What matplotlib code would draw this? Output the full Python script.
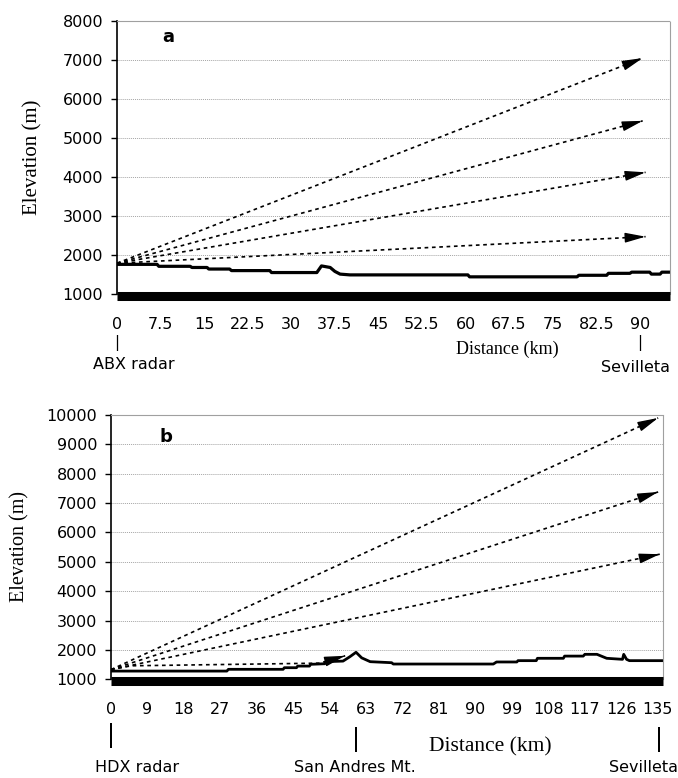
import matplotlib
matplotlib.use("Agg")
import matplotlib.pyplot as plt
import numpy as np

# ---- panel a: ABX radar -> Sevilleta ----
a_dist = [0, 6.9, 7.2, 12.6, 12.9, 15.5, 15.8, 19.4, 19.7, 26.3, 26.6, 34.4, 35.2, 36.7,
          37.5, 38.4, 40.1, 60.4, 60.7, 79.2, 79.5, 84.3, 84.6, 88.3, 88.6, 91.7, 92.0,
          93.5, 93.8, 95.2]
a_elev = [1760, 1760, 1710, 1710, 1680, 1680, 1640, 1640, 1600, 1600, 1550, 1550, 1720, 1680,
          1580, 1510, 1490, 1490, 1440, 1440, 1480, 1480, 1530, 1530, 1560, 1560, 1510,
          1510, 1560, 1560]
a_ray_start = (0, 1790)
a_ray_end_x = [90.5, 90.5, 91.0, 91.0]
a_ray_end_y = [7050, 5440, 4120, 2470]
a_xticks = [0, 7.5, 15, 22.5, 30, 37.5, 45, 52.5, 60, 67.5, 75, 82.5, 90]
a_xticklabels = ["0", "7.5", "15", "22.5", "30", "37.5", "45", "52.5", "60", "67.5",
                 "75", "82.5", "90"]
a_yticks = [1000, 2000, 3000, 4000, 5000, 6000, 7000, 8000]

# ---- panel b: HDX radar -> Sevilleta ----
b_dist = [0, 28.6, 29.0, 42.5, 42.8, 45.8, 46.1, 49.0, 49.3, 52.8, 53.0, 57.3, 59.0, 60.5,
          61.9, 64.0, 69.3, 69.7, 94.4, 95.2, 100.2, 100.5, 105.0, 105.3, 111.7, 112.0,
          116.6, 117.0, 120.0, 122.4, 126.3, 126.6, 127.3, 128.0, 136.3]
b_elev = [1280, 1280, 1340, 1340, 1395, 1395, 1450, 1450, 1510, 1530, 1600, 1620, 1770, 1920,
          1730, 1600, 1565, 1520, 1520, 1590, 1590, 1635, 1635, 1715, 1715, 1790,
          1790, 1850, 1850, 1715, 1680, 1850, 1680, 1635, 1635]
b_ray_start = (0, 1330)
b_ray_end_x = [135.1, 135.1, 135.5]
b_ray_end_y = [9900, 7380, 5260]
# low ray blocked by San Andres Mt.
b_low_ray_x = [0, 5, 51.5, 57.8]
b_low_ray_y = [1330, 1460, 1550, 1800]
b_xticks = [0, 9, 18, 27, 36, 45, 54, 63, 72, 81, 90, 99, 108, 117, 126, 135]
b_xticklabels = [str(v) for v in b_xticks]
b_yticks = [1000, 2000, 3000, 4000, 5000, 6000, 7000, 8000, 9000, 10000]

W, H = 678, 778
fig = plt.figure(figsize=(W / 100, H / 100), dpi=100)


def fx(px):
    return px / W


def fy(py):
    return 1 - py / H


def arrow_head(ax, x0, y0, x1, y1):
    # draw only the filled head at the end of the ray
    t = 0.02
    ax.annotate("", xy=(x1, y1), xytext=(x1 - t * (x1 - x0), y1 - t * (y1 - y0)),
                arrowprops=dict(arrowstyle="-|>,head_length=1.25,head_width=0.3",
                                color="black", lw=1, shrinkA=0, shrinkB=0))


def style_axes(ax, xmax, ymax, xticks, xlabels, yticks, fs):
    ax.set_xlim(0, xmax)
    ax.set_ylim(1000, ymax)
    ax.set_xticks(xticks)
    ax.set_xticklabels(xlabels)
    ax.set_yticks(yticks)
    ax.tick_params(axis="x", length=0, pad=15, labelsize=fs)
    ax.tick_params(axis="y", length=4, width=1, pad=6, labelsize=fs)
    ax.grid(axis="y", color="#a5a5a5", linestyle=(0, (1, 1)), lw=0.7)
    ax.set_axisbelow(True)
    ax.spines["left"].set_linewidth(1.2)
    ax.spines["bottom"].set_linewidth(6.5)
    ax.spines["bottom"].set_capstyle("butt")
    ax.spines["bottom"].set_position(("outward", 1.5))
    for s in ("top", "right"):
        ax.spines[s].set_color("#a0a0a0")
        ax.spines[s].set_linestyle((0, (1, 1)))
        ax.spines[s].set_linewidth(0.8)


plt.rcParams["font.family"] = "DejaVu Sans"
serif = "Liberation Serif"

# panel a
ax_a = fig.add_axes([fx(117), fy(294), (670 - 117) / W, (294 - 21) / H])
style_axes(ax_a, 95.2, 8000, a_xticks, a_xticklabels, a_yticks, 11.5)
ax_a.plot(a_dist, a_elev, color="black", lw=2.3)
for ex, ey in zip(a_ray_end_x, a_ray_end_y):
    ax_a.plot([a_ray_start[0], ex], [a_ray_start[1], ey], color="black",
              lw=1.2, linestyle=(0, (2.2, 2.2)))
    arrow_head(ax_a, a_ray_start[0], a_ray_start[1], ex, ey)
fig.text(fx(168), fy(37), "a", fontsize=13, fontweight="bold", ha="center", va="center")
fig.text(fx(33), fy(157), "Elevation (m)", family=serif, fontsize=15,
         rotation=90, ha="center", va="center")
fig.text(fx(507), fy(349), "Distance (km)", family=serif, fontsize=13,
         ha="center", va="center")
fig.text(fx(117), fy(343), "|", fontsize=11, ha="center", va="center")
fig.text(fx(134), fy(365), "ABX radar", fontsize=11.5, ha="center", va="center")
fig.text(fx(640), fy(343), "|", fontsize=11, ha="center", va="center")
fig.text(fx(636), fy(367), "Sevilleta", fontsize=11.5, ha="center", va="center")

# panel b
ax_b = fig.add_axes([fx(111), fy(679.3), (663 - 111) / W, (679.3 - 415) / H])
style_axes(ax_b, 136.3, 10000, b_xticks, b_xticklabels, b_yticks, 11.5)
ax_b.plot(b_dist, b_elev, color="black", lw=2.0)
for ex, ey in zip(b_ray_end_x, b_ray_end_y):
    ax_b.plot([b_ray_start[0], ex], [b_ray_start[1], ey], color="black",
              lw=1.2, linestyle=(0, (2.2, 2.2)))
    arrow_head(ax_b, b_ray_start[0], b_ray_start[1], ex, ey)
ax_b.plot(b_low_ray_x, b_low_ray_y, color="black", lw=1.2, linestyle=(0, (2.2, 2.2)))
arrow_head(ax_b, b_low_ray_x[-2], b_low_ray_y[-2], b_low_ray_x[-1], b_low_ray_y[-1])
fig.text(fx(166), fy(437), "b", fontsize=13, fontweight="bold", ha="center", va="center")
fig.text(fx(20), fy(547), "Elevation (m)", family=serif, fontsize=14.5,
         rotation=90, ha="center", va="center")
fig.text(fx(490), fy(747), "Distance (km)", family=serif, fontsize=15.5,
         ha="center", va="center")
fig.text(fx(111), fy(736), "|", fontsize=17, ha="center", va="center")
fig.text(fx(137), fy(767), "HDX radar", fontsize=11.5, ha="center", va="center")
fig.text(fx(356), fy(740), "|", fontsize=17, ha="center", va="center")
fig.text(fx(355), fy(767), "San Andres Mt.", fontsize=11.5, ha="center", va="center")
fig.text(fx(659), fy(739), "|", fontsize=17, ha="center", va="center")
fig.text(fx(643), fy(767), "Sevilleta", fontsize=11.5, ha="center", va="center")

fig.savefig("out.png", dpi=100)
